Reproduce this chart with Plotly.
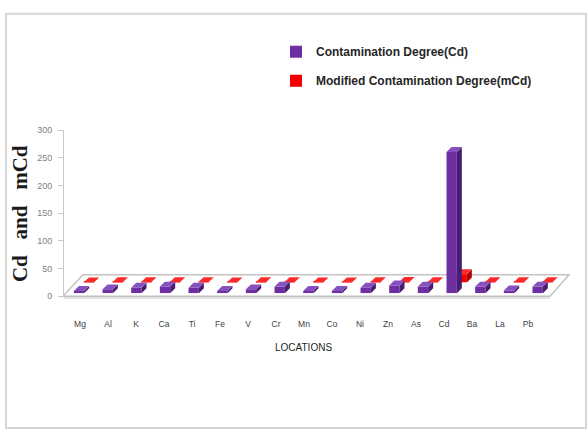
import plotly.graph_objects as go

# Elements measured at each sampling location
locations = ["Mg", "Al", "K", "Ca", "Ti", "Fe", "V", "Cr", "Mn", "Co",
             "Ni", "Zn", "As", "Cd", "Ba", "La", "Pb"]
cd_values = [4, 7, 10, 12, 10, 4, 7, 12, 4, 4, 10, 14, 12, 255, 12, 5, 12]
mcd_values = [0.2, 0.4, 0.6, 0.7, 0.6, 0.2, 0.4, 0.7, 0.2, 0.2, 0.6, 0.8,
              0.7, 15, 0.7, 0.3, 0.7]
y_ticks = [0, 50, 100, 150, 200, 250, 300]

W, H = 588, 434


def px(x):
    return x / W


def py(y):
    return 1 - y / H


BAR_W = 0.36      # front face width, category units
DEPTH_X = 0.175   # depth of the 3-D faces, category units
DEPTH_Y = 8.9     # depth of the 3-D faces, value units


def faces(values):
    """Polygons for the top and right-hand side of each pseudo-3D bar."""
    tx, ty, sx, sy = [], [], [], []
    for i, v in enumerate(values):
        l, r = i - BAR_W / 2, i + BAR_W / 2
        tx += [l, r, r + DEPTH_X, l + DEPTH_X, l, None]
        ty += [v, v, v + DEPTH_Y, v + DEPTH_Y, v, None]
        sx += [r, r + DEPTH_X, r + DEPTH_X, r, r, None]
        sy += [0, DEPTH_Y, v + DEPTH_Y, v, 0, None]
    return tx, ty, sx, sy


def add_series(fig, values, name, front, top, side, xa, ya, rank, group):
    idx = list(range(len(values)))
    fig.add_trace(go.Bar(x=idx, y=values, width=BAR_W, name=name,
                         marker=dict(color=front, line=dict(width=0)),
                         xaxis=xa, yaxis=ya, legendrank=rank,
                         legendgroup=group, hoverinfo="skip"))
    tx, ty, sx, sy = faces(values)
    fig.add_trace(go.Scatter(x=sx, y=sy, fill="toself", fillcolor=side,
                             mode="lines", line=dict(width=0, color=side),
                             xaxis=xa, yaxis=ya, showlegend=False,
                             hoverinfo="skip"))
    fig.add_trace(go.Scatter(x=tx, y=ty, fill="toself", fillcolor=top,
                             mode="lines", line=dict(width=0, color=top),
                             xaxis=xa, yaxis=ya, showlegend=False,
                             hoverinfo="skip"))


fig = go.Figure()

# empty trace that carries the labelled x/y axes
fig.add_trace(go.Scatter(x=[], y=[], xaxis="x", yaxis="y",
                         showlegend=False, hoverinfo="skip"))

# back row (mCd) first, then the front row (Cd) on top of it
add_series(fig, mcd_values, "Modified Contamination Degree(mCd)",
           "#F20000", "#FF2A2A", "#B00000", "x2", "y2", 2, "mcd")
add_series(fig, cd_values, "Contamination Degree(Cd)",
           "#6E2FA3", "#8650BE", "#4A1D72", "x3", "y3", 1, "cd")

n = len(locations)
hidden = dict(visible=False, range=[-0.5, n - 0.5], fixedrange=True)
hidden_y = dict(visible=False, range=[0, 300], fixedrange=True)

fig.update_layout(
    width=W, height=H,
    margin=dict(l=0, r=0, t=0, b=0),
    paper_bgcolor="white", plot_bgcolor="rgba(0,0,0,0)",
    barmode="overlay",
    xaxis=dict(domain=[px(66), px(542)], range=[-0.5, n - 0.5],
               tickmode="array", tickvals=list(range(n)), ticktext=locations,
               showline=False, showgrid=False, zeroline=False, ticks="",
               anchor="free", position=py(320), fixedrange=True,
               tickfont=dict(family="Liberation Sans", size=8.5, color="#404040")),
    yaxis=dict(domain=[py(298), py(128)], range=[0, 300],
               tickmode="array", tickvals=y_ticks,
               showline=True, linecolor="#C8C8C8", linewidth=1,
               ticks="outside", ticklen=5, tickcolor="#C8C8C8",
               ticklabelstandoff=4,
               showgrid=False, zeroline=False, fixedrange=True,
               anchor="free", position=px(63),
               tickfont=dict(family="Liberation Sans", size=9, color="#7F7F7F")),
    xaxis2=dict(domain=[px(74.7), px(562)], anchor="y2", **hidden),
    yaxis2=dict(domain=[py(284), py(114)], anchor="x2", **hidden_y),
    xaxis3=dict(domain=[px(64.7), px(552)], anchor="y3", **hidden),
    yaxis3=dict(domain=[py(295), py(125)], anchor="x3", **hidden_y),
    legend=dict(x=px(276), y=py(33), xanchor="left", yanchor="top",
                bgcolor="rgba(0,0,0,0)", tracegroupgap=10,
                itemwidth=30,
                font=dict(family="Liberation Sans", size=12, color="#262626",
                          weight="bold")),
    showlegend=True,
)

shapes = [
    # outer frame
    dict(type="rect", xref="paper", yref="paper",
         x0=px(6), y0=py(433), x1=px(586), y1=py(9),
         line=dict(color="#D6D6D6", width=2), fillcolor="rgba(0,0,0,0)",
         layer="below"),
    # floor of the 3-D chart
    dict(type="path", xref="paper", yref="paper",
         path=(f"M {px(63)},{py(298)} L {px(550)},{py(298)} "
               f"L {px(569)},{py(276)} L {px(83)},{py(276)} Z"),
         line=dict(color="#C4C4C4", width=1.5), fillcolor="white",
         layer="below"),
    dict(type="line", xref="paper", yref="paper",
         x0=px(64), y0=py(300), x1=px(550), y1=py(300),
         line=dict(color="#D9D9D9", width=1.5), layer="below"),
]
fig.update_layout(shapes=shapes)

gap = "\u00a0" * 3
fig.add_annotation(text=f"Cd{gap}and{gap}mCd",
                   textangle=-90,
                   xref="paper", yref="paper", x=px(20), y=py(214),
                   xanchor="center", yanchor="middle",
                   showarrow=False,
                   font=dict(family="Liberation Serif", size=21,
                             color="#1A1A1A", weight="bold"))
fig.add_annotation(text="LOCATIONS", xref="paper", yref="paper",
                   x=px(303), y=py(351), xanchor="center", yanchor="middle",
                   showarrow=False,
                   font=dict(family="Liberation Sans", size=10,
                             color="#1F1F1F"))

fig.write_html("out.html")
